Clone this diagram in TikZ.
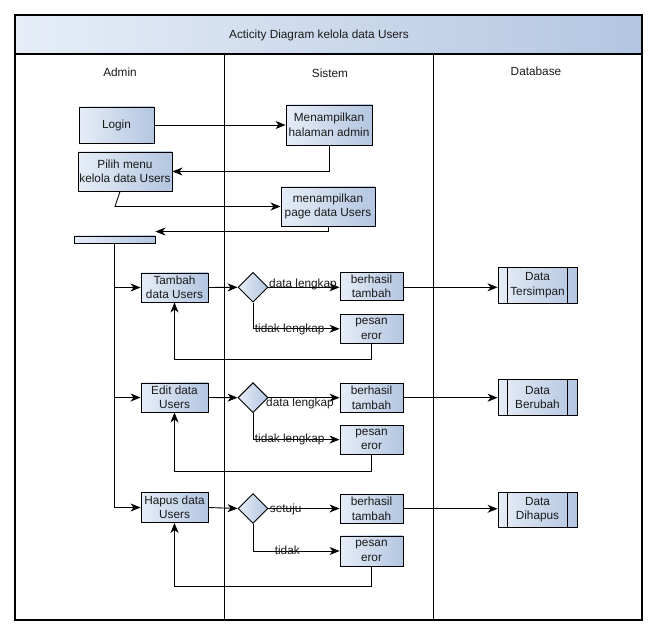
\documentclass[tikz,border=0pt]{standalone}
\usepackage{fontspec}
\setmainfont{Liberation Sans}
\usetikzlibrary{arrows.meta,shapes.geometric}
\definecolor{shadeL}{HTML}{E6EDF7}
\definecolor{shadeR}{HTML}{B3C6E1}
\definecolor{ink}{HTML}{1A1A1A}

\begin{document}
\begin{tikzpicture}[x=1pt,y=-1pt,
  font=\fontsize{11.8}{14.5}\selectfont,
  actbox/.style={draw=black, line width=0.9pt, left color=shadeL, right color=shadeR,
    align=center, inner sep=0pt, text=ink},
  dbbox/.style={actbox},
  decision/.style={draw=black, line width=0.9pt, diamond, left color=shadeL, right color=shadeR,
    minimum width=30pt, minimum height=30pt, inner sep=0pt},
  lane/.style={draw=black, line width=1.1pt},
  flow/.style={draw=black, line width=0.9pt},
  arr/.style={flow, -{Stealth[length=10pt,width=8pt,inset=3pt]}},
  lbl/.style={inner sep=0pt, text=ink},
]
% canvas
\fill[white] (0,0) rectangle (657,636);
\useasboundingbox (0,0) rectangle (657,636);

% title band and swimlanes
\shade[left color=shadeL, right color=shadeR] (15,15) rectangle (642,54);
\draw[lane] (15,15) rectangle (642,620);
\draw[lane] (15,54) -- (642,54);
\draw[lane] (224.3,54) -- (224.3,620);
\draw[lane] (433.3,54) -- (433.3,620);
\node[lbl] (title) at (319,35) {Acticity Diagram kelola data Users};
\node[lbl] (laneA) at (120,72) {Admin};
\node[lbl] (laneS) at (330,73) {Sistem};
\node[lbl] (laneD) at (536,71) {Database};

% opening steps
\node[actbox, minimum width=75pt, minimum height=36pt] (login) at (116.5,125) {Login};
\node[actbox, minimum width=86pt, minimum height=40pt] (admin) at (329,125) {Menampilkan\\halaman admin};
\node[actbox, minimum width=94pt, minimum height=39pt] (pilih) at (125,171.5) {Pilih menu\\kelola data Users};
\node[actbox, minimum width=94pt, minimum height=39pt] (page) at (328,206.5) {menampilkan\\page data Users};
\node[actbox, minimum width=81pt, minimum height=7pt] (bar) at (114.5,239.5) {};

\draw[arr] (login.east) -- (admin.west);
\draw[arr] (admin.south) |- (pilih.east);
\draw[arr] ([xshift=-5pt]pilih.south) -- ([xshift=-10pt]pilih.south |- page.west) -- (page.west);
\draw[arr] (page.south) |- ([yshift=4pt]bar.north east);

% admin actions
\node[actbox, minimum width=67pt, minimum height=29pt] (tambah) at (174.5,287.5) {Tambah\\data Users};
\node[actbox, minimum width=67pt, minimum height=29pt] (edit) at (174.5,397.5) {Edit data\\Users};
\node[actbox, minimum width=67pt, minimum height=30pt] (hapus) at (174.5,507.5) {Hapus data\\Users};

\draw[flow] (bar.south) |- ([xshift=-9pt]hapus.west);
\draw[arr] (bar.south |- tambah.west) -- (tambah.west);
\draw[arr] (bar.south |- edit.west) -- (edit.west);
\draw[arr] ([xshift=-10pt]hapus.west) -- (hapus.west);

% decisions
\node[decision] (d1) at (253,287.3) {};
\node[decision] (d2) at (253,397.7) {};
\node[decision] (d3) at (253,508.5) {};

% system results
\node[actbox, minimum width=63pt, minimum height=28pt] (ok1) at (371.5,286.5) {berhasil\\tambah};
\node[actbox, minimum width=63pt, minimum height=29pt] (err1) at (371.5,328.8) {pesan\\eror};
\node[actbox, minimum width=63pt, minimum height=29pt] (ok2) at (371.5,397.7) {berhasil\\tambah};
\node[actbox, minimum width=63pt, minimum height=29pt] (err2) at (371.5,439.6) {pesan\\eror};
\node[actbox, minimum width=63pt, minimum height=29pt] (ok3) at (371.5,508.8) {berhasil\\tambah};
\node[actbox, minimum width=63pt, minimum height=30pt] (err3) at (371.5,551) {pesan\\eror};

% database stores
\node[dbbox, minimum width=79pt, minimum height=36pt] (db1) at (537.5,285.3) {Data\\Tersimpan};
\node[dbbox, minimum width=79pt, minimum height=36pt] (db2) at (537.5,397.3) {Data\\Berubah};
\node[dbbox, minimum width=79pt, minimum height=35pt] (db3) at (537.5,509.8) {Data\\Dihapus};
\foreach \n in {db1,db2,db3}{
  \draw[flow] ([xshift=10pt]\n.north west) -- ([xshift=10pt]\n.south west);
  \draw[flow] ([xshift=-10pt]\n.north east) -- ([xshift=-10pt]\n.south east);
}

% return path coordinates
\coordinate (r1) at (174.5,359.3);
\coordinate (r2) at (174.5,471.7);
\coordinate (r3) at (174.5,586.7);

% tambah branch
\draw[arr] (tambah.east) -- (d1.west);
\draw[arr] (d1.east) -- (d1.east -| ok1.west);
\draw[arr] (d1.south) |- (err1.west);
\draw[arr] (err1.south) |- (r1) -- (tambah.south);
\draw[arr] (ok1.east |- d1.east) -- (ok1.east |- d1.east -| db1.west);
\node[lbl] (l1a) at (303,284) {data lengkap};
\node[lbl] (l1b) at (289.7,329) {tidak lengkap};

% edit branch
\draw[arr] (edit.east) -- (d2.west);
\draw[arr] (d2.east) -- (ok2.west);
\draw[arr] (d2.south) |- (err2.west);
\draw[arr] (err2.south) |- (r2) -- (edit.south);
\draw[arr] (ok2.east) -- (ok2.east -| db2.west);
\node[lbl] (l2a) at (300,403.3) {data lengkap};
\node[lbl] (l2b) at (289.7,439.3) {tidak lengkap};

% hapus branch
\draw[arr] (hapus.east) -- (d3.west);
\draw[arr] (d3.east) -- (d3.east -| ok3.west);
\draw[arr] (d3.south) |- (err3.west);
\draw[arr] (err3.south) |- (r3) -- (hapus.south);
\draw[arr] (ok3.east) -- (ok3.east -| db3.west);
\node[lbl] (l3a) at (285.7,509.3) {setuju};
\node[lbl] (l3b) at (287.3,550.7) {tidak};
\end{tikzpicture}
\end{document}
